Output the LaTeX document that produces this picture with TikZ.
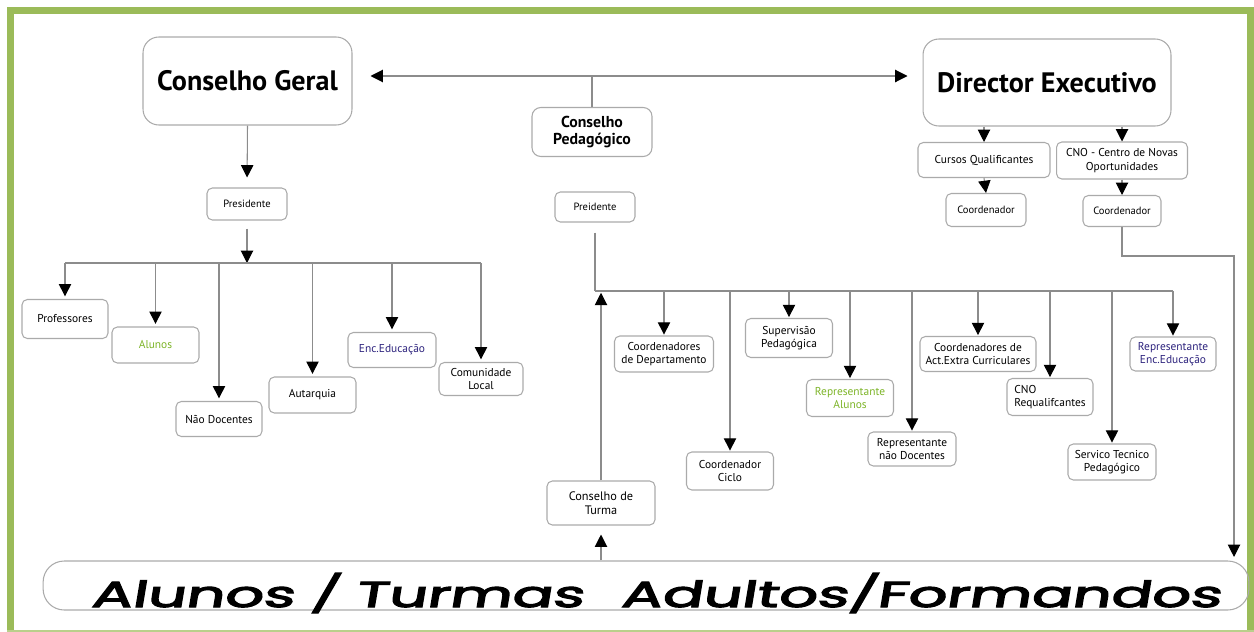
\documentclass[tikz,border=0pt]{standalone}
\usepackage{fontspec}
\setmainfont{PT Sans}
\newfontfamily\bigfont[FakeSlant=0.1,FakeBold=3]{Poppins}
\usetikzlibrary{arrows.meta}
\definecolor{framegreen}{RGB}{155,187,89}
\definecolor{boxline}{RGB}{170,170,170}
\definecolor{wirecol}{RGB}{140,140,140}
\definecolor{alunogreen}{RGB}{125,180,40}
\definecolor{encblue}{RGB}{45,35,125}

\begin{document}
\begin{tikzpicture}[x=0.02cm,y=-0.02cm,
    >={Triangle[width=7pt,length=7pt,color=black]},
    wire/.style={draw=wirecol, line width=0.6pt},
    box/.style={draw=boxline, line width=0.6pt, rounded corners=3pt, align=center,
        inner sep=1pt, font=\fontsize{6.5}{7.5}\selectfont},
    headbox/.style={box, rounded corners=9pt, font=\fontsize{16}{19}\selectfont\bfseries}]
    \useasboundingbox (0,0) rectangle (1254,632);
    % green frame
    \fill[framegreen] (7,7) rectangle (14,632);
    \fill[framegreen] (7,7) rectangle (1254,14);
    \fill[framegreen] (1247,7) rectangle (1254,632);
    \fill[framegreen!70] (7,629.5) rectangle (1254,632);

    % conselho geral side
    \node[headbox, minimum width=4.18cm, minimum height=1.76cm] (cg) at (247.5,81) {Conselho Geral};
    \node[box, font=\fontsize{6}{7}\selectfont, minimum width=1.6cm, minimum height=0.64cm] (pres1) at (247,204) {Presidente};
    \node[box, minimum width=1.72cm, minimum height=0.78cm] (prof) at (65,319) {Professores};
    \node[box, text=alunogreen, minimum width=1.74cm, minimum height=0.72cm] (alunos) at (155.5,345) {Alunos};
    \node[box, minimum width=1.72cm, minimum height=0.7cm] (naodoc) at (219,419) {Não Docentes};
    \node[box, minimum width=1.74cm, minimum height=0.72cm] (autarquia) at (312.5,395) {Autarquia};
    \node[box, text=encblue, minimum width=1.76cm, minimum height=0.7cm] (encedu) at (392,350) {Enc.Educação};
    \node[box, minimum width=1.68cm, minimum height=0.66cm] (comloc) at (481,379) {Comunidade\\Local};

    % conselho pedagogico
    \node[box, rounded corners=5pt, font=\fontsize{9}{10}\selectfont\bfseries, minimum width=2.4cm, minimum height=0.98cm] (cp) at (592,132) {Conselho\\Pedagógico};
    \node[box, font=\fontsize{6}{7}\selectfont, minimum width=1.6cm, minimum height=0.6cm] (pres2) at (595,207) {Preidente};
    \node[box, font=\fontsize{7}{8}\selectfont, minimum width=2.16cm, minimum height=0.88cm] (turma) at (601,503) {Conselho de\\Turma};
    \node[box, minimum width=1.98cm, minimum height=0.72cm] (coorddep) at (664,354) {Coordenadores\\de Departamento};
    \node[box, minimum width=1.74cm, minimum height=0.76cm] (coordciclo) at (730,471) {Coordenador\\Ciclo};
    \node[box, minimum width=1.74cm, minimum height=0.78cm] (supervisao) at (789,338) {Supervisão\\Pedagógica};
    \node[box, text=alunogreen, minimum width=1.74cm, minimum height=0.74cm] (repalunos) at (850,398) {Representante\\Alunos};
    \node[box, minimum width=1.76cm, minimum height=0.68cm] (repnaodoc) at (912,449) {Representante\\não Docentes};
    \node[box, minimum width=2.32cm, minimum height=0.7cm] (coordact) at (978,354) {Coordenadores de\\Act.Extra Curriculares};
    \node[box, align=left, minimum width=1.72cm, minimum height=0.74cm] (cnoreq) at (1050,397) {CNO\\Requalifcantes};
    \node[box, minimum width=1.76cm, minimum height=0.72cm] (servico) at (1112,462) {Servico Tecnico\\Pedagógico};
    \node[box, text=encblue, minimum width=1.72cm, minimum height=0.68cm] (repenc) at (1173,354) {Representante\\Enc.Educação};

    % director executivo side
    \node[headbox, minimum width=4.96cm, minimum height=1.74cm] (de) at (1047,82.5) {Director Executivo};
    \node[box, minimum width=2.64cm, minimum height=0.7cm] (cursos) at (984,160) {Cursos Qualificantes};
    \node[box, minimum width=2.62cm, minimum height=0.74cm] (cno) at (1122,160.5) {CNO - Centro de Novas\\Oportunidades};
    \node[box, font=\fontsize{6}{7}\selectfont, minimum width=1.6cm, minimum height=0.66cm] (coord1) at (986,210) {Coordenador};
    \node[box, font=\fontsize{6}{7}\selectfont, minimum width=1.56cm, minimum height=0.62cm] (coord2) at (1122,211) {Coordenador};

    % alunos / turmas
    \node[draw=boxline, line width=0.6pt, rounded corners=12pt, minimum width=24.12cm, minimum height=0.98cm] (oval) at (646,585.5) {};
    \node[anchor=base, inner sep=0pt] (alunosbar) at (656,607)
        {\resizebox{22.6cm}{0.68cm}{\bigfont Alunos / Turmas\hspace{0.35em} Adultos/Formandos}};

    % connectors
    \coordinate (axis) at (592,76);
    \coordinate (busL) at (247,263);
    \coordinate (busR) at (595,291);
    \coordinate (bend) at (1234,256);
    \draw[wire,<->,shorten <=0.36cm,shorten >=0.3cm] (cg.east |- axis) -- (de.west |- axis);
    \draw[wire] (axis) -- (cp.north);
    \draw[wire,->,shorten >=0.2cm] (cg.south) -- (pres1.north);
    \draw[wire,->,shorten <=0.16cm] (pres1.south) -- (busL);
    \draw[wire] (prof.north |- busL) -- (comloc.north |- busL);
    \foreach \n in {prof,alunos,naodoc,autarquia,encedu,comloc}
        \draw[wire,->,shorten >=1.5pt] (\n.north |- busL) -- (\n.north);
    \draw[wire,shorten <=0.2cm] (pres2.south) -- (busR);
    \draw[wire] (busR) -- (repenc.north |- busR);
    \foreach \n in {coorddep,coordciclo,supervisao,repalunos,repnaodoc,coordact,cnoreq,servico,repenc}
        \draw[wire,->,shorten >=0.5pt] (\n.north |- busR) -- (\n.north);
    \draw[wire,->,shorten >=1pt] (turma.north) -- (turma.north |- busR);
    \draw[wire,->,shorten >=0.18cm] (turma.south |- oval.north) -- (turma.south);
    \draw[wire,->] (de.south -| cursos.north) -- (cursos.north);
    \draw[wire,->] (de.south -| cno.north) -- (cno.north);
    \draw[wire,->] (cursos.south) -- (coord1.north);
    \draw[wire,->] (cno.south) -- (coord2.north);
    \draw[wire,->,shorten >=2pt] (coord2.south) |- (bend) -- (bend |- oval.north);
\end{tikzpicture}
\end{document}
